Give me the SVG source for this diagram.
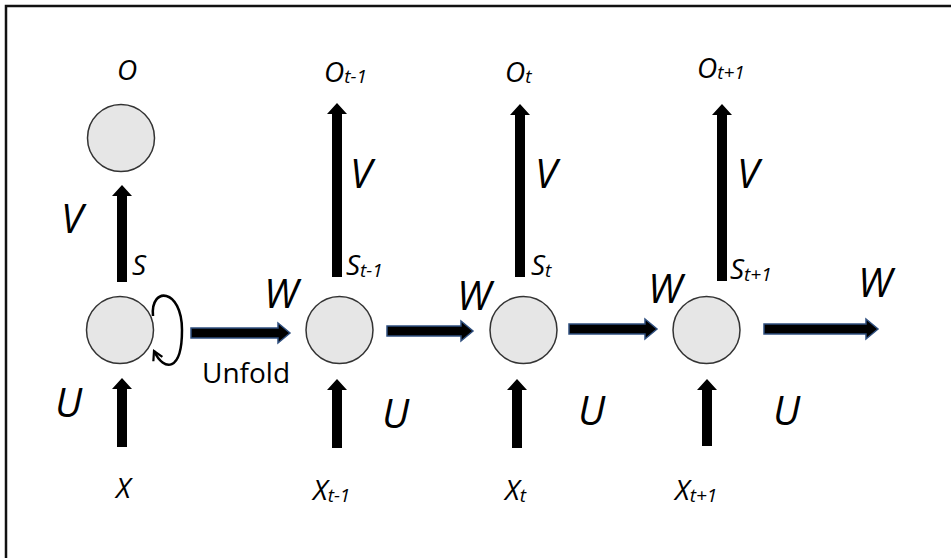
<svg xmlns="http://www.w3.org/2000/svg" width="951" height="558" viewBox="0 0 951 558">
<style>
.node{fill:#e6e6e6;stroke:#333;stroke-width:1.5}
.va{fill:#000}
.ha{fill:#000;stroke:#2f4f7f;stroke-width:1.5;stroke-linejoin:miter}
.big{font-family:"Open Sans","Liberation Sans",sans-serif;font-style:italic;font-size:40px;fill:#000}
.sm{font-family:"Open Sans","Liberation Sans",sans-serif;font-style:italic;font-size:28px;fill:#000}
.sub{font-size:19px}
.plain{font-family:"Open Sans","Liberation Sans",sans-serif;font-size:28px;fill:#000}
</style>
<defs>
<marker id="chev" viewBox="0 0 12 12" refX="10" refY="6" markerWidth="12" markerHeight="12" markerUnits="userSpaceOnUse" orient="auto">
<path d="M1,1 L10,6 L1,11" fill="none" stroke="#000" stroke-width="2.2"/>
</marker>
</defs>
<rect x="0" y="0" width="951" height="558" fill="#fff"/>
<path d="M6,558 L6,6 L951,6" fill="none" stroke="#111" stroke-width="2.5"/>
<g id="node-o"><circle class="node" cx="121" cy="138" r="33.5"/></g>
<g id="node-s"><circle class="node" cx="120" cy="330" r="33.5"/></g>
<g id="node-t-1"><circle class="node" cx="339.5" cy="330" r="33.5"/></g>
<g id="node-t"><circle class="node" cx="523.5" cy="330" r="33.5"/></g>
<g id="node-t+1"><circle class="node" cx="706.5" cy="330" r="33.5"/></g>
<g id="connectors">
<polygon class="va" points="117,282 117,196 112,196 122,185 132,196 127,196 127,282"/>
<polygon class="va" points="117,447 117,389 112,389 122,378 132,389 127,389 127,447"/>
<polygon class="va" points="332,277 332,114 327,114 337,103 347,114 342,114 342,277"/>
<polygon class="va" points="332,448 332,390 327,390 337,379 347,390 342,390 342,448"/>
<polygon class="va" points="515,277 515,115 510,115 520,104 530,115 525,115 525,277"/>
<polygon class="va" points="512,448 512,390 507,390 517,379 527,390 522,390 522,448"/>
<polygon class="va" points="717,281 717,115 712,115 722,104 732,115 727,115 727,281"/>
<polygon class="va" points="702,446 702,390 697,390 707,379 717,390 712,390 712,446"/>
<polygon class="ha" points="191,328 278,328 278,323 290,333 278,343 278,338 191,338"/>
<polygon class="ha" points="387,326 461,326 461,321 473,331 461,341 461,336 387,336"/>
<polygon class="ha" points="569,324 645,324 645,319 657,329 645,339 645,334 569,334"/>
<polygon class="ha" points="764,324 866,324 866,319 878,329 866,339 866,334 764,334"/>
<path d="M153,316 C150,286 182,288 182,330 C182,372 164,372 154,351" fill="none" stroke="#000" stroke-width="2.5" marker-end="url(#chev)"/>
</g>
<g id="labels">
<text class="sm" x="117" y="80">O</text>
<text class="sm" x="324" y="82">O<tspan class="sub" dy="1">t-1</tspan></text>
<text class="sm" x="505" y="82">O<tspan class="sub" dy="1">t</tspan></text>
<text class="sm" x="697" y="78">O<tspan class="sub" dy="1">t+1</tspan></text>
<text class="big" x="61" y="233">V</text>
<text class="big" x="350" y="188">V</text>
<text class="big" x="535" y="188">V</text>
<text class="big" x="737" y="188">V</text>
<text class="sm" x="132" y="275">S</text>
<text class="sm" x="346" y="275">S<tspan class="sub" dy="2">t-1</tspan></text>
<text class="sm" x="531" y="275">S<tspan class="sub" dy="2">t</tspan></text>
<text class="sm" x="730" y="279">S<tspan class="sub" dy="2">t+1</tspan></text>
<text class="big" x="264" y="308">W</text>
<text class="big" x="457" y="310">W</text>
<text class="big" x="648" y="303">W</text>
<text class="big" x="858" y="297">W</text>
<text class="plain" x="202" y="383">Unfold</text>
<text class="big" x="55" y="417">U</text>
<text class="big" x="382" y="428">U</text>
<text class="big" x="578" y="425">U</text>
<text class="big" x="773" y="425">U</text>
<text class="sm" x="116" y="498">X</text>
<text class="sm" x="313" y="500">X<tspan class="sub" dy="2">t-1</tspan></text>
<text class="sm" x="505" y="500">X<tspan class="sub" dy="2">t</tspan></text>
<text class="sm" x="675" y="500">X<tspan class="sub" dy="2">t+1</tspan></text>
</g>
</svg>
